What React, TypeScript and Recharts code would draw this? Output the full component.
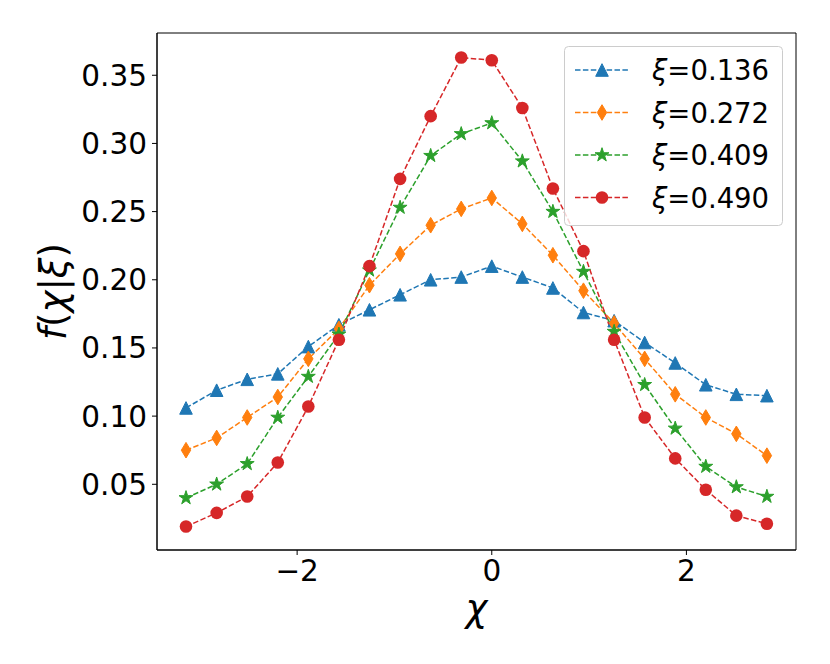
import React from "react";
import {
  Legend,
  Line,
  LineChart,
  ReferenceArea,
  XAxis,
  YAxis,
} from "recharts";

// χ grid: -π .. π - π/10, step π/10
const chi = [
  -3.142, -2.827, -2.513, -2.199, -1.885, -1.571, -1.257, -0.942, -0.628, -0.314,
  0, 0.314, 0.628, 0.942, 1.257, 1.571, 1.885, 2.199, 2.513, 2.827,
];

const xi136 = [
  0.106, 0.119, 0.127, 0.131, 0.151, 0.167, 0.178, 0.189, 0.2, 0.202,
  0.21, 0.202, 0.194, 0.176, 0.17, 0.154, 0.139, 0.123, 0.116, 0.115,
];
const xi272 = [
  0.075, 0.084, 0.099, 0.114, 0.142, 0.164, 0.196, 0.219, 0.24, 0.252,
  0.26, 0.241, 0.218, 0.192, 0.168, 0.142, 0.116, 0.099, 0.087, 0.071,
];
const xi409 = [
  0.04, 0.05, 0.065, 0.099, 0.129, 0.16, 0.207, 0.253, 0.291, 0.307,
  0.315, 0.287, 0.25, 0.206, 0.162, 0.123, 0.091, 0.063, 0.048, 0.041,
];
const xi490 = [
  0.019, 0.029, 0.041, 0.066, 0.107, 0.156, 0.21, 0.274, 0.32, 0.363,
  0.361, 0.326, 0.267, 0.221, 0.156, 0.099, 0.069, 0.046, 0.027, 0.021,
];

const xTicks = [-2, 0, 2];
const yTicks = [0.05, 0.1, 0.15, 0.2, 0.25, 0.3, 0.35];
const xDomain: [number, number] = [-3.44, 3.126];
const yDomain: [number, number] = [0.0018, 0.381];

const FONT = "DejaVu Sans";

type MarkerKind = "triangle" | "diamond" | "star" | "circle";

const series: { key: string; label: string; color: string; marker: MarkerKind; values: number[] }[] = [
  { key: "a", label: "0.136", color: "#1f77b4", marker: "triangle", values: xi136 },
  { key: "b", label: "0.272", color: "#ff7f0e", marker: "diamond", values: xi272 },
  { key: "c", label: "0.409", color: "#2ca02c", marker: "star", values: xi409 },
  { key: "d", label: "0.490", color: "#d62728", marker: "circle", values: xi490 },
];

const data = chi.map((x, i) => {
  const row: Record<string, number> = { x };
  series.forEach((s) => (row[s.key] = s.values[i]));
  return row;
});

function starPath(cx: number, cy: number, r: number) {
  const pts: string[] = [];
  const inner = r * 0.382;
  for (let i = 0; i < 10; i++) {
    const rad = i % 2 === 0 ? r : inner;
    const a = -Math.PI / 2 + (i * Math.PI) / 5;
    pts.push(`${cx + rad * Math.cos(a)},${cy + rad * Math.sin(a)}`);
  }
  return `M${pts.join("L")}Z`;
}

function Marker({ kind, cx, cy, color }: { kind: MarkerKind; cx: number; cy: number; color: string }) {
  if (kind === "triangle") {
    const s = 6.3;
    return <path d={`M${cx},${cy - s}L${cx - s},${cy + s}L${cx + s},${cy + s}Z`} fill={color} stroke={color} strokeWidth={1} />;
  }
  if (kind === "diamond") {
    return <path d={`M${cx},${cy - 7.8}L${cx + 4.7},${cy}L${cx},${cy + 7.8}L${cx - 4.7},${cy}Z`} fill={color} stroke={color} strokeWidth={1} />;
  }
  if (kind === "star") {
    return <path d={starPath(cx, cy, 7.3)} fill={color} stroke={color} strokeWidth={1} />;
  }
  return <circle cx={cx} cy={cy} r={6.3} fill={color} />;
}

function makeDot(kind: MarkerKind, color: string) {
  return (props: any) => {
    const { cx, cy, index } = props;
    if (cx == null || cy == null) return <g key={`e-${index}`} />;
    return <Marker key={`${kind}-${index}`} kind={kind} cx={cx} cy={cy} color={color} />;
  };
}

const minus = (v: number) => String(v).replace("-", "\u2212");

function LegendBox() {
  return (
    <svg width={220} height={181} style={{ display: "block" }}>
      <rect x={0.5} y={0.5} width={218} height={179} rx={4} fill="rgba(255,255,255,0.8)" stroke="#cccccc" />
      {series.map((s, i) => {
        const cy = 24 + i * 42.5;
        return (
          <g key={s.key}>
            <line x1={11} x2={66} y1={cy} y2={cy} stroke={s.color} strokeWidth={1.5} strokeDasharray="5.5 2.4" />
            <Marker kind={s.marker} cx={38} cy={cy} color={s.color} />
            <text x={88} y={cy + 10} fontSize={27.5} fontFamily={FONT} fill="#000">
              <tspan fontStyle="italic">ξ</tspan>=0.{s.label.slice(2)}
            </text>
          </g>
        );
      })}
    </svg>
  );
}

export default function App() {
  return (
    <div style={{ position: "absolute", left: 0, top: 0, width: 830, height: 664, background: "#fff" }}>
      <LineChart
        width={830}
        height={664}
        data={data}
        margin={{ top: 33, right: 34, bottom: 0, left: 0 }}
      >
        <XAxis
          dataKey="x"
          type="number"
          domain={xDomain}
          ticks={xTicks}
          allowDataOverflow
          height={114}
          tickSize={5}
          tickMargin={5}
          stroke="#000"
          tick={{ fontSize: 29.5, fontFamily: FONT, fill: "#000" }}
          tickFormatter={minus}
          label={(p: any) => {
            const vb = p.viewBox;
            return (
              <text x={vb.x + vb.width / 2} y={vb.y + 71} textAnchor="middle" fontSize={37} fontFamily={FONT} fontStyle="italic" fill="#000">
                χ
              </text>
            );
          }}
        />
        <YAxis
          type="number"
          domain={yDomain}
          ticks={yTicks}
          allowDataOverflow
          width={157}
          tickSize={5}
          tickMargin={5}
          stroke="#000"
          tick={{ fontSize: 29.5, fontFamily: FONT, fill: "#000" }}
          tickFormatter={(v: number) => v.toFixed(2)}
          label={(p: any) => {
            const vb = p.viewBox;
            const x = vb.x + 66;
            const y = vb.y + vb.height / 2;
            return (
              <text x={x} y={y} transform={`rotate(-90 ${x} ${y})`} textAnchor="middle" fontSize={37} fontFamily={FONT} fill="#000">
                <tspan fontStyle="italic">f</tspan>(<tspan fontStyle="italic">χ</tspan>|<tspan fontStyle="italic">ξ</tspan>)
              </text>
            );
          }}
        />
        {series.map((s) => (
          <Line
            key={s.key}
            type="linear"
            dataKey={s.key}
            stroke={s.color}
            strokeWidth={1.5}
            strokeDasharray="5.5 2.4"
            dot={makeDot(s.marker, s.color)}
            activeDot={false}
            isAnimationActive={false}
          />
        ))}
        <ReferenceArea
          x1={xDomain[0]}
          x2={xDomain[1]}
          y1={yDomain[0]}
          y2={yDomain[1]}
          fill="none"
          stroke="#000"
          strokeWidth={1}
          ifOverflow="visible"
        />
        <Legend
          layout="horizontal"
          verticalAlign="middle"
          align="center"
          wrapperStyle={{ left: 564, top: 46, width: 220, height: 181 }}
          content={() => <LegendBox />}
        />
      </LineChart>
    </div>
  );
}
